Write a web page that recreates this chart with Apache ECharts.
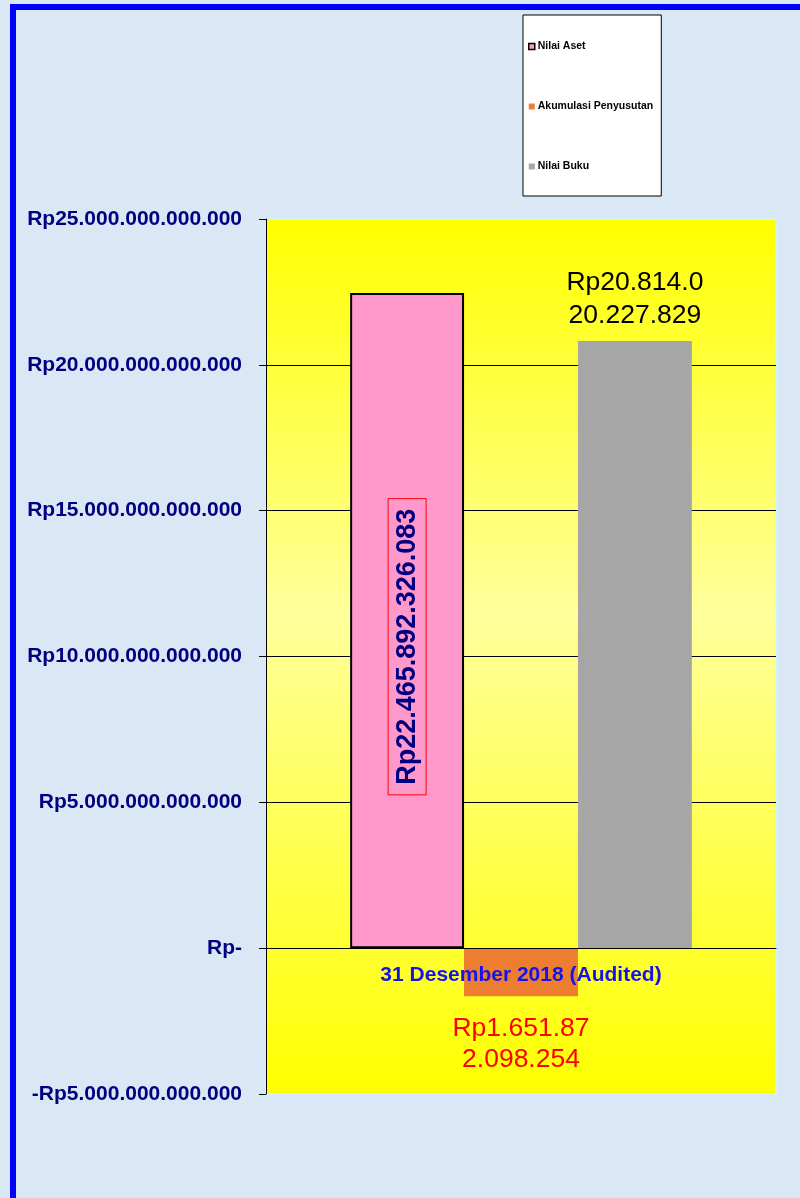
<!DOCTYPE html>
<html>
<head>
<meta charset="utf-8">
<script src="https://cdn.jsdelivr.net/npm/echarts@6/dist/echarts.min.js"></script>
<style>
  html, body { margin: 0; padding: 0; width: 800px; height: 1198px; overflow: hidden; background: #dae7f5; }
  #frame { position: absolute; left: 10px; top: 4px; width: 900px; height: 1300px; border: 6px solid #0000ff; box-sizing: border-box; }
  #chart { position: absolute; left: 0; top: 0; width: 800px; height: 1198px; }
</style>
</head>
<body>
<div id="frame"></div>
<div id="chart"></div>
<script>
const categories = ['31 Desember 2018 (Audited)'];
const seriesNames = ['Nilai Aset', 'Akumulasi Penyusutan', 'Nilai Buku'];
const nilaiAset = [22465892326083];
const akumulasiPenyusutan = [-1651872098254];
const nilaiBuku = [20814020227829];
const yTicks = { min: -5000000000000, max: 25000000000000, interval: 5000000000000 };

function dots(n) {
  return String(Math.abs(Math.round(n))).replace(/\B(?=(\d{3})+(?!\d))/g, '.');
}
function rp(n) {
  if (n === 0) return 'Rp-';
  return (n < 0 ? '-' : '') + 'Rp' + dots(n);
}
function wrapped(n) {
  const s = 'Rp' + dots(n);
  return s.slice(0, 10) + '\n' + s.slice(10);
}

const FONT = '"Liberation Sans", Arial, sans-serif';
const H = 1198, GRID_TOP = 219, GRID_BOTTOM = 104;
const plotHeight = H - GRID_TOP - GRID_BOTTOM;
// move the category axis up to the zero value of the y scale
const zeroOffset = -plotHeight * (0 - yTicks.min) / (yTicks.max - yTicks.min);

const chart = echarts.init(document.getElementById('chart'), null, { renderer: 'canvas' });
chart.setOption({
  backgroundColor: 'transparent',
  animation: false,
  grid: {
    left: 266, right: 24, top: GRID_TOP, bottom: GRID_BOTTOM,
    show: true,
    borderColor: '#c8ffff', borderWidth: 1,
    backgroundColor: {
      type: 'linear', x: 0, y: 0, x2: 0, y2: 1,
      colorStops: [
        { offset: 0, color: '#ffff00' },
        { offset: 0.45, color: '#ffff9c' },
        { offset: 1, color: '#ffff00' }
      ]
    }
  },
  legend: {
    orient: 'vertical',
    left: 523, top: 15,
    padding: [26, 8, 24, 5],
    backgroundColor: '#ffffff',
    borderColor: '#000000', borderWidth: 1,
    itemWidth: 6, itemHeight: 6, itemGap: 49,
    icon: 'rect',
    textStyle: { fontFamily: FONT, fontWeight: 'bold', fontSize: 10.5, color: '#000', padding: [0, 0, 0, -2] },
    data: [
      { name: seriesNames[0], itemStyle: { color: '#ff99cc', borderColor: '#000', borderWidth: 1.5 } },
      { name: seriesNames[1] },
      { name: seriesNames[2] }
    ]
  },
  xAxis: {
    type: 'category',
    data: categories,
    z: 10,
    offset: zeroOffset,
    axisLine: { show: true, onZero: false, lineStyle: { color: '#000', width: 1 } },
    axisTick: { show: false },
    axisLabel: { fontFamily: FONT, fontWeight: 'bold', fontSize: 21, color: '#1414e8', margin: 17 },
    splitLine: { show: false }
  },
  yAxis: {
    type: 'value',
    min: yTicks.min, max: yTicks.max, interval: yTicks.interval,
    axisLine: { show: true, onZero: false, lineStyle: { color: '#000', width: 1 } },
    axisTick: { show: true, length: 7, lineStyle: { color: '#000' } },
    axisLabel: { formatter: rp, fontFamily: FONT, fontWeight: 'bold', fontSize: 21, color: '#000080', margin: 24 },
    splitLine: { show: true, showMinLine: false, showMaxLine: false, lineStyle: { color: '#000', width: 1 } }
  },
  series: [
    {
      name: seriesNames[0], type: 'bar', data: nilaiAset,
      barGap: '0%', barCategoryGap: '33%',
      itemStyle: { color: '#ff99cc', borderColor: '#000', borderWidth: 2 },
      label: {
        show: true, position: ['50%', '54%'], rotate: 90, align: 'center', verticalAlign: 'middle',
        formatter: p => 'Rp' + dots(p.value),
        fontFamily: FONT, fontWeight: 'bold', fontSize: 27, color: '#000080',
        borderColor: '#ff0000', borderWidth: 1, padding: [7, 10, 4, 10]
      }
    },
    {
      name: seriesNames[1], type: 'bar', data: akumulasiPenyusutan,
      itemStyle: { color: '#ed7d31' },
      label: {
        show: true, position: 'bottom', distance: 17,
        formatter: p => wrapped(p.value),
        fontFamily: FONT, fontSize: 26.5, lineHeight: 31, color: '#ff0000', align: 'center'
      }
    },
    {
      name: seriesNames[2], type: 'bar', data: nilaiBuku,
      itemStyle: { color: '#a6a6a6' },
      label: {
        show: true, position: 'top', distance: 9,
        formatter: p => wrapped(p.value),
        fontFamily: FONT, fontSize: 26.5, lineHeight: 33, color: '#000', align: 'center'
      }
    }
  ]
});
</script>
</body>
</html>
